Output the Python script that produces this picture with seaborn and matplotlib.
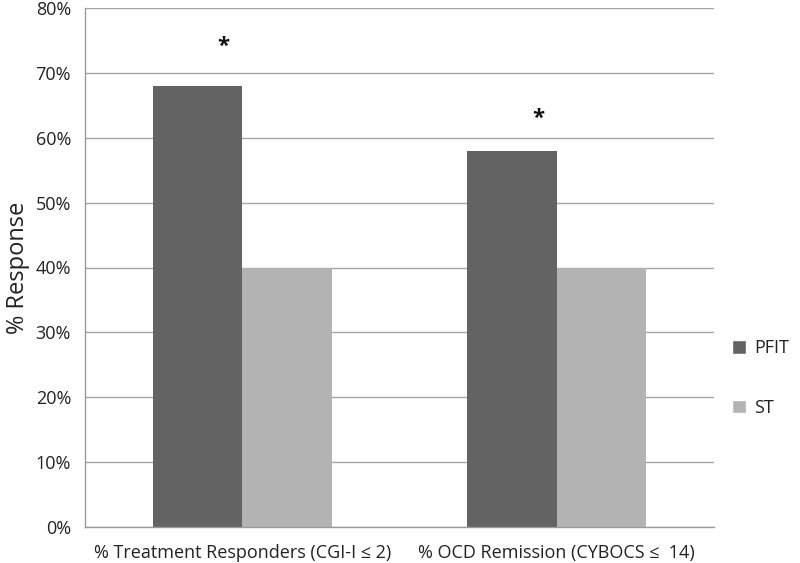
import matplotlib
matplotlib.use("Agg")
import matplotlib.pyplot as plt
import seaborn as sns
import pandas as pd
from matplotlib.ticker import FixedLocator, PercentFormatter
from matplotlib.patches import Patch

categories = ["% Treatment Responders (CGI-I \u2264 2)", "% OCD Remission (CYBOCS \u2264  14)"]
groups = ["PFIT", "ST"]
pfit = [68, 58]
st = [40, 40]
star_levels = [74, 63]
yticks = [0, 10, 20, 30, 40, 50, 60, 70, 80]

df = pd.DataFrame({
    "category": categories * 2,
    "group": [groups[0]] * 2 + [groups[1]] * 2,
    "value": pfit + st,
})

sns.set_style("white")
plt.rcParams['font.family'] = ['Open Sans', 'DejaVu Sans']

fig = plt.figure(figsize=(8, 5.63), dpi=100)
ax = fig.add_axes([85/800, 1 - 527/563, (714-85)/800, (527-8)/563])

sns.barplot(data=df, x="category", y="value", hue="group", order=categories,
            hue_order=groups, palette={"PFIT": "#636363", "ST": "#b3b3b3"},
            width=0.57, ax=ax, saturation=1, legend=False, linewidth=0, edgecolor="none")

ax.set_ylim(0, 80)
ax.set_xlim(-0.5, 1.5)
ax.set_yticks(yticks)
ax.yaxis.set_major_formatter(PercentFormatter(decimals=0))
ax.yaxis.grid(True, color="#a6a6a6", linewidth=1)
ax.set_axisbelow(True)
for s in ["top", "right"]:
    ax.spines[s].set_visible(False)
for s in ["left", "bottom"]:
    ax.spines[s].set_color("#9a9a9a")
    ax.spines[s].set_linewidth(1)
ax.tick_params(axis="y", length=6, color="#9a9a9a", labelsize=13, labelcolor="#222222", pad=4)
ax.tick_params(axis="x", which="major", length=0, labelsize=13, labelcolor="#222222", pad=12)
ax.xaxis.set_minor_locator(FixedLocator([-0.5, 0.5, 1.5]))
ax.tick_params(axis="x", which="minor", length=6, color="#9a9a9a", direction="out")
ax.set_xlabel("")
ax.set_ylabel("% Response", fontsize=17, color="#222222", labelpad=4)

# asterisks
for i, lvl in enumerate(star_levels):
    ax.text(i - 0.06, lvl, "*", ha="center", va="center", fontsize=16, fontweight="bold", color="#111111")

# legend
handles = [Patch(facecolor="#636363", label="PFIT"), Patch(facecolor="#b3b3b3", label="ST")]
leg = fig.legend(handles=handles, loc="center left", bbox_to_anchor=(716/800, 1 - 378/563),
                 frameon=False, fontsize=13, handlelength=0.75, handleheight=0.75,
                 labelspacing=2.3, handletextpad=0.45)
for t in leg.get_texts():
    t.set_color("#222222")

fig.savefig("out.png", dpi=100)
